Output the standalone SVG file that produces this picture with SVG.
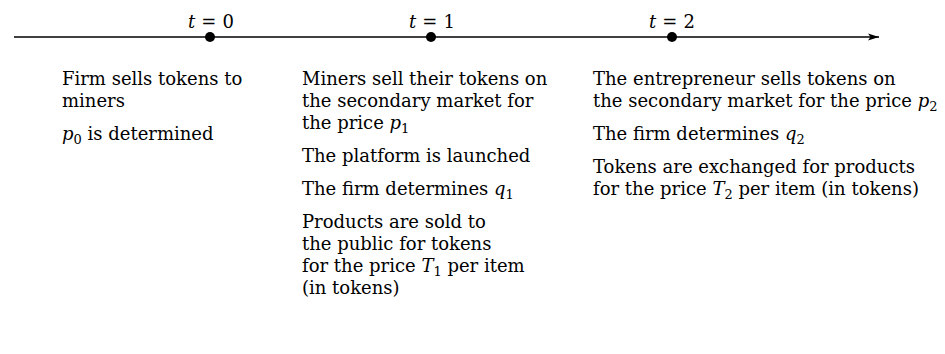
<svg xmlns="http://www.w3.org/2000/svg" width="945" height="354" viewBox="0 0 945 354">
<style>
text{font-family:"DejaVu Serif","Liberation Serif",serif;font-size:18px;fill:#000}
.i{font-style:italic}
.s{font-size:13px}
.axis{stroke:#000;stroke-width:1.3;fill:none}
.dot{fill:#000}
</style>
<defs>
<marker id="arr" viewBox="0 0 11 8" refX="11" refY="4" markerWidth="11" markerHeight="8" markerUnits="userSpaceOnUse" orient="auto">
<path d="M0,0.5 L11,4 L0,7.5 L2.5,4 Z" fill="#000"/>
</marker>
</defs>
<g id="connectors">
<line class="axis" x1="14" y1="37" x2="879" y2="37" marker-end="url(#arr)"/>
</g>
<g id="t0">
<circle class="dot" cx="210" cy="37" r="5"/>
<text x="211" y="28" text-anchor="middle"><tspan class="i">t</tspan><tspan dx="6">=</tspan><tspan dx="6">0</tspan></text>
</g>
<g id="t1">
<circle class="dot" cx="431" cy="37" r="5"/>
<text x="432" y="28" text-anchor="middle"><tspan class="i">t</tspan><tspan dx="6">=</tspan><tspan dx="6">1</tspan></text>
</g>
<g id="t2">
<circle class="dot" cx="672" cy="37" r="5"/>
<text x="672" y="28" text-anchor="middle"><tspan class="i">t</tspan><tspan dx="6">=</tspan><tspan dx="6">2</tspan></text>
</g>
<g id="events0">
<text x="62" y="85">Firm sells tokens to<tspan x="62" y="107">miners</tspan></text>
<text x="62" y="140"><tspan class="i">p</tspan><tspan class="s" dy="4">0</tspan><tspan dy="-4"> is determined</tspan></text>
</g>
<g id="events1">
<text x="302" y="85">Miners sell their tokens on<tspan x="302" y="107">the secondary market for</tspan><tspan x="302" y="129">the price </tspan><tspan class="i">p</tspan><tspan class="s" dy="4">1</tspan></text>
<text x="302" y="162">The platform is launched</text>
<text x="302" y="195">The firm determines <tspan class="i">q</tspan><tspan class="s" dy="4">1</tspan></text>
<text x="302" y="228">Products are sold to<tspan x="302" y="250">the public for tokens</tspan><tspan x="302" y="272">for the price </tspan><tspan class="i">T</tspan><tspan class="s" dy="4">1</tspan><tspan dy="-4"> per item</tspan><tspan x="302" y="294">(in tokens)</tspan></text>
</g>
<g id="events2">
<text x="593" y="85">The entrepreneur sells tokens on<tspan x="593" y="107">the secondary market for the price </tspan><tspan class="i">p</tspan><tspan class="s" dy="4">2</tspan></text>
<text x="593" y="140">The firm determines <tspan class="i">q</tspan><tspan class="s" dy="4">2</tspan></text>
<text x="593" y="173">Tokens are exchanged for products<tspan x="593" y="195">for the price </tspan><tspan class="i">T</tspan><tspan class="s" dy="4">2</tspan><tspan dy="-4"> per item (in tokens)</tspan></text>
</g>
</svg>
